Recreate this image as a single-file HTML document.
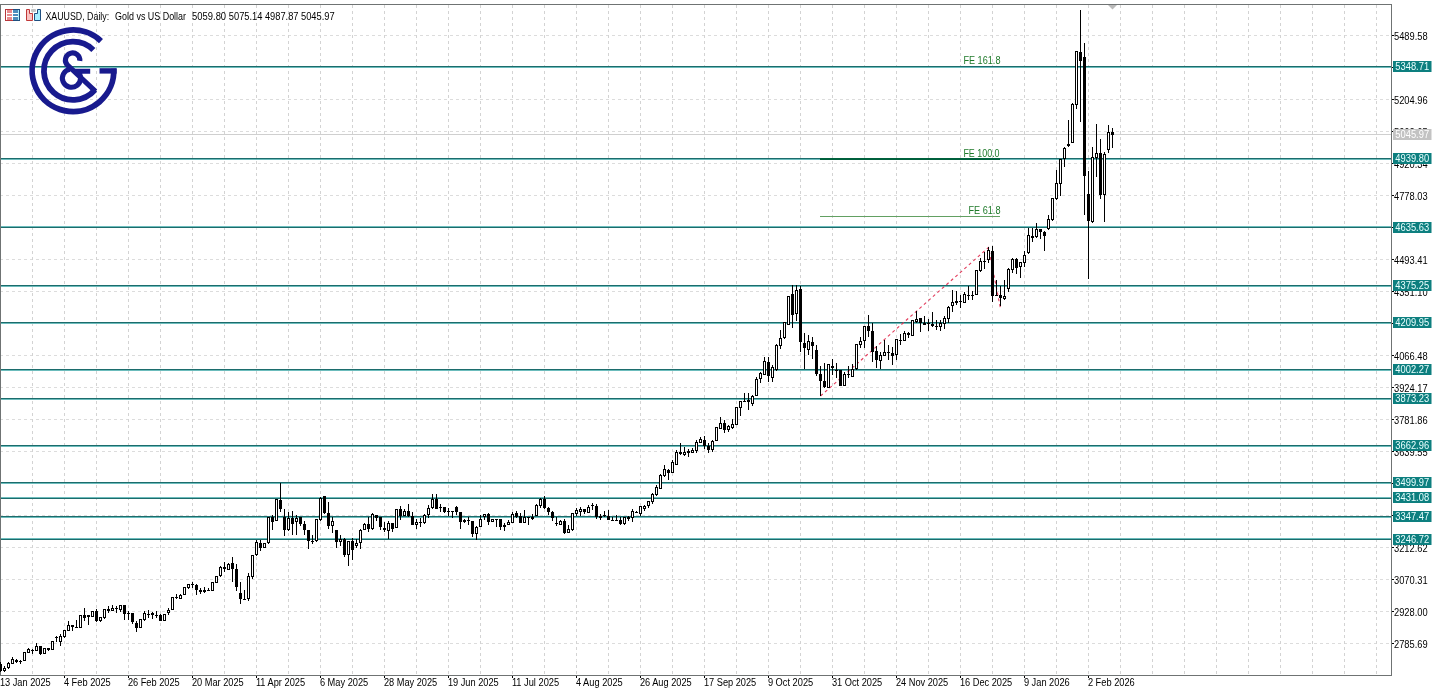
<!DOCTYPE html><html><head><meta charset="utf-8"><style>
html,body{margin:0;padding:0;background:#fff;width:1438px;height:693px;overflow:hidden}
svg{display:block;font-family:"Liberation Sans",sans-serif;will-change:transform}
</style></head><body>
<svg width="1438" height="693" viewBox="0 0 1438 693">
<rect x="0" y="0" width="1438" height="693" fill="#fff"/>
<path d="M1 35.5H1391 M1 67.5H1391 M1 99.5H1391 M1 131.5H1391 M1 163.5H1391 M1 195.5H1391 M1 227.5H1391 M1 259.5H1391 M1 291.5H1391 M1 323.5H1391 M1 355.5H1391 M1 387.5H1391 M1 419.5H1391 M1 451.5H1391 M1 483.5H1391 M1 515.5H1391 M1 547.5H1391 M1 579.5H1391 M1 611.5H1391 M1 643.5H1391" stroke="#dcdcdc" stroke-width="1" stroke-dasharray="3 3" stroke-dashoffset="1" fill="none" shape-rendering="crispEdges"/>
<path d="M32.5 5V675 M64.5 5V675 M96.5 5V675 M128.5 5V675 M160.5 5V675 M192.5 5V675 M224.5 5V675 M256.5 5V675 M288.5 5V675 M320.5 5V675 M352.5 5V675 M384.5 5V675 M416.5 5V675 M448.5 5V675 M480.5 5V675 M512.5 5V675 M544.5 5V675 M576.5 5V675 M608.5 5V675 M640.5 5V675 M672.5 5V675 M704.5 5V675 M736.5 5V675 M768.5 5V675 M800.5 5V675 M832.5 5V675 M864.5 5V675 M896.5 5V675 M928.5 5V675 M960.5 5V675 M992.5 5V675 M1024.5 5V675 M1056.5 5V675 M1088.5 5V675 M1120.5 5V675 M1152.5 5V675 M1184.5 5V675 M1216.5 5V675 M1248.5 5V675 M1280.5 5V675 M1312.5 5V675 M1344.5 5V675 M1376.5 5V675" stroke="#d3d3d3" stroke-width="1" stroke-dasharray="3 3" stroke-dashoffset="0" fill="none" shape-rendering="crispEdges"/>
<path d="M0.5 4V675.5H1391.5V4.5H0" stroke="#6f7373" stroke-width="1" fill="none" shape-rendering="crispEdges"/>
<path d="M1 134.5H1391" stroke="#cfcfcf" stroke-width="1" fill="none" shape-rendering="crispEdges"/>
<path d="M1 67.5H1391 M1 159.5H1391 M1 226.5H1391 M1 286.5H1391 M1 323.5H1391 M1 370.5H1391 M1 399.5H1391 M1 446.5H1391 M1 483.5H1391 M1 497.5H1391 M1 517.5H1391 M1 538.5H1391" stroke="#6cbcbc" stroke-width="1" fill="none" shape-rendering="crispEdges"/>
<path d="M1 66.5H1391 M1 158.5H1391 M1 227.5H1391 M1 285.5H1391 M1 322.5H1391 M1 369.5H1391 M1 398.5H1391 M1 445.5H1391 M1 482.5H1391 M1 498.5H1391 M1 516.5H1391 M1 539.5H1391" stroke="#1c6c6c" stroke-width="1" fill="none" shape-rendering="crispEdges"/>
<path d="M820 159H1000" stroke="#00603c" stroke-width="2" fill="none" shape-rendering="crispEdges"/>
<path d="M820 216.5H1000" stroke="#62a062" stroke-width="1" fill="none" shape-rendering="crispEdges"/>
<text x="963.40" y="63.90" font-size="10" fill="#1f7a2a" textLength="37.10" lengthAdjust="spacingAndGlyphs">FE 161.8</text>
<text x="963.40" y="156.70" font-size="10" fill="#1f7a2a" textLength="36.20" lengthAdjust="spacingAndGlyphs">FE 100.0</text>
<text x="968.40" y="213.60" font-size="10" fill="#1f7a2a" textLength="32.10" lengthAdjust="spacingAndGlyphs">FE 61.8</text>
<path d="M820.5 396L988.5 247.5L1000.5 308.5" stroke="#e23a5a" stroke-width="1.1" stroke-dasharray="3 3" fill="none"/>
<path d="M0.5 662V672 M4.5 666V672 M8.5 662V669 M12.5 657V664 M16.5 659V663 M20.5 660V664 M24.5 652V661 M28.5 648V653 M32.5 649V654 M36.5 643V651 M40.5 646V655 M44.5 648V654 M48.5 648V651 M52.5 641V650 M56.5 636V642 M60.5 634V646 M64.5 630V638 M68.5 621V631 M72.5 625V631 M76.5 620V628 M80.5 615V628 M84.5 608V621 M88.5 615V625 M92.5 611V617 M96.5 609V622 M100.5 617V622 M104.5 609V619 M108.5 606V613 M112.5 605V611 M116.5 606V613 M120.5 605V612 M124.5 605V620 M128.5 611V620 M132.5 613V624 M136.5 621V632 M140.5 619V628 M144.5 611V621 M148.5 610V618 M152.5 612V619 M156.5 611V618 M160.5 614V621 M164.5 614V621 M168.5 608V615 M172.5 597V610 M176.5 594V599 M180.5 594V599 M184.5 587V595 M188.5 584V589 M192.5 582V588 M196.5 584V595 M200.5 588V594 M204.5 587V593 M208.5 588V591 M212.5 582V591 M216.5 576V583 M220.5 566V577 M224.5 562V572 M228.5 563V570 M232.5 557V582 M236.5 564V591 M240.5 582V604 M244.5 590V600 M248.5 573V601 M252.5 555V579 M256.5 540V556 M260.5 540V551 M264.5 543V548 M268.5 517V544 M272.5 515V530 M276.5 499V521 M280.5 483V512 M284.5 509V536 M288.5 512V531 M292.5 511V535 M296.5 515V535 M300.5 517V526 M304.5 521V535 M308.5 530V549 M312.5 535V544 M316.5 519V542 M320.5 497V521 M324.5 496V514 M328.5 502V529 M332.5 517V533 M336.5 530V548 M340.5 535V546 M344.5 538V557 M348.5 541V566 M352.5 538V560 M356.5 539V548 M360.5 529V549 M364.5 523V530 M368.5 517V532 M372.5 513V530 M376.5 515V521 M380.5 517V530 M384.5 522V532 M388.5 521V539 M392.5 523V532 M396.5 509V528 M400.5 506V520 M404.5 509V516 M408.5 504V517 M412.5 512V525 M416.5 519V529 M420.5 518V527 M424.5 514V524 M428.5 505V518 M432.5 494V509 M436.5 494V509 M440.5 504V512 M444.5 507V513 M448.5 508V516 M452.5 511V518 M456.5 506V515 M460.5 512V529 M464.5 519V523 M468.5 517V525 M472.5 521V537 M476.5 526V540 M480.5 515V527 M484.5 514V520 M488.5 513V525 M492.5 519V522 M496.5 519V527 M500.5 519V530 M504.5 523V531 M508.5 520V525 M512.5 512V523 M516.5 511V518 M520.5 513V523 M524.5 510V523 M528.5 517V525 M532.5 514V520 M536.5 504V516 M540.5 498V508 M544.5 496V509 M548.5 507V515 M552.5 511V521 M556.5 517V526 M560.5 520V525 M564.5 519V534 M568.5 525V533 M572.5 513V531 M576.5 508V516 M580.5 507V516 M584.5 509V514 M588.5 505V513 M592.5 503V510 M596.5 504V519 M600.5 514V520 M604.5 511V517 M608.5 510V520 M612.5 517V521 M616.5 515V521 M620.5 517V525 M624.5 517V525 M628.5 516V521 M632.5 509V522 M636.5 511V513 M640.5 506V516 M644.5 505V511 M648.5 501V508 M652.5 493V504 M656.5 485V496 M660.5 474V489 M664.5 465V477 M668.5 469V480 M672.5 460V473 M676.5 450V465 M680.5 443V455 M684.5 447V456 M688.5 449V457 M692.5 448V453 M696.5 440V453 M700.5 437V443 M704.5 436V449 M708.5 443V453 M712.5 440V452 M716.5 427V441 M720.5 417V429 M724.5 420V433 M728.5 425V432 M732.5 419V429 M736.5 407V425 M740.5 401V416 M744.5 393V402 M748.5 393V410 M752.5 395V406 M756.5 377V396 M760.5 372V383 M764.5 357V375 M768.5 357V382 M772.5 365V382 M776.5 344V371 M780.5 330V349 M784.5 322V339 M788.5 296V325 M792.5 285V328 M796.5 285V321 M800.5 286V352 M804.5 333V369 M808.5 335V355 M812.5 337V359 M816.5 345V376 M820.5 366V396 M824.5 363V388 M828.5 364V388 M832.5 359V375 M836.5 363V378 M840.5 370V386 M844.5 372V386 M848.5 366V378 M852.5 364V377 M856.5 344V370 M860.5 337V348 M864.5 326V348 M868.5 315V337 M872.5 323V362 M876.5 346V368 M880.5 352V369 M884.5 340V356 M888.5 345V360 M892.5 347V365 M896.5 339V360 M900.5 334V345 M904.5 331V341 M908.5 332V338 M912.5 320V336 M916.5 311V323 M920.5 318V332 M924.5 316V325 M928.5 319V331 M932.5 312V327 M936.5 320V330 M940.5 320V331 M944.5 316V329 M948.5 306V323 M952.5 290V312 M956.5 291V305 M960.5 295V308 M964.5 292V303 M968.5 286V300 M972.5 291V300 M976.5 270V295 M980.5 258V272 M984.5 252V269 M988.5 247V263 M992.5 246V302 M996.5 280V296 M1000.5 286V306 M1004.5 280V300 M1008.5 268V292 M1012.5 258V273 M1016.5 258V274 M1020.5 262V278 M1024.5 251V267 M1028.5 228V254 M1032.5 228V242 M1036.5 223V238 M1040.5 229V239 M1044.5 231V251 M1048.5 215V230 M1052.5 198V221 M1056.5 170V200 M1060.5 159V196 M1064.5 147V167 M1068.5 120V147 M1072.5 103V143 M1076.5 51V109 M1080.5 10V122 M1084.5 43V215 M1088.5 171V279 M1092.5 147V223 M1096.5 124V177 M1100.5 139V199 M1104.5 152V222 M1108.5 125V153 M1112.5 128V148" stroke="#000" stroke-width="1" fill="none" shape-rendering="crispEdges"/>
<path d="M-1 664h3v7h-3z M15 660h3v2h-3z M19 661h3v1h-3z M31 650h3v1h-3z M39 646h3v8h-3z M47 648h3v2h-3z M55 637h3v1h-3z M71 625h3v2h-3z M75 627h3v1h-3z M83 615h3v3h-3z M95 611h3v10h-3z M107 609h3v2h-3z M115 608h3v1h-3z M123 605h3v9h-3z M127 613h3v1h-3z M131 613h3v9h-3z M135 623h3v5h-3z M151 613h3v2h-3z M155 615h3v1h-3z M159 615h3v6h-3z M175 597h3v1h-3z M191 584h3v1h-3z M195 585h3v5h-3z M199 590h3v2h-3z M207 590h3v1h-3z M223 567h3v2h-3z M231 563h3v6h-3z M235 569h3v18h-3z M239 593h3v6h-3z M243 599h3v1h-3z M259 543h3v5h-3z M271 517h3v5h-3z M279 500h3v9h-3z M283 517h3v13h-3z M291 518h3v6h-3z M299 517h3v7h-3z M303 524h3v6h-3z M307 530h3v11h-3z M311 541h3v1h-3z M323 496h3v17h-3z M327 513h3v13h-3z M335 530h3v12h-3z M343 539h3v16h-3z M351 541h3v9h-3z M367 524h3v5h-3z M375 515h3v3h-3z M379 517h3v10h-3z M383 528h3v2h-3z M391 523h3v6h-3z M399 509h3v7h-3z M407 511h3v5h-3z M411 516h3v9h-3z M419 522h3v1h-3z M435 499h3v10h-3z M439 507h3v1h-3z M443 507h3v5h-3z M447 511h3v1h-3z M455 507h3v5h-3z M459 512h3v10h-3z M467 520h3v1h-3z M471 521h3v13h-3z M487 514h3v8h-3z M499 519h3v8h-3z M515 513h3v4h-3z M519 516h3v7h-3z M527 517h3v1h-3z M543 499h3v9h-3z M547 508h3v4h-3z M551 512h3v6h-3z M555 523h3v1h-3z M563 521h3v12h-3z M583 509h3v3h-3z M591 505h3v1h-3z M595 506h3v11h-3z M603 515h3v1h-3z M607 516h3v4h-3z M611 520h3v1h-3z M615 520h3v1h-3z M619 520h3v4h-3z M627 517h3v2h-3z M635 512h3v1h-3z M667 470h3v3h-3z M679 452h3v2h-3z M687 451h3v2h-3z M703 440h3v6h-3z M707 446h3v4h-3z M723 423h3v7h-3z M747 400h3v2h-3z M767 362h3v14h-3z M791 294h3v21h-3z M799 289h3v53h-3z M803 343h3v5h-3z M811 342h3v4h-3z M815 350h3v24h-3z M819 374h3v7h-3z M823 381h3v6h-3z M831 366h3v2h-3z M835 370h3v1h-3z M839 370h3v16h-3z M847 374h3v1h-3z M867 326h3v5h-3z M871 331h3v21h-3z M875 351h3v9h-3z M891 353h3v3h-3z M899 340h3v1h-3z M907 333h3v2h-3z M919 318h3v5h-3z M923 323h3v2h-3z M931 324h3v2h-3z M935 326h3v1h-3z M955 301h3v2h-3z M959 301h3v1h-3z M967 295h3v1h-3z M971 295h3v1h-3z M983 261h3v1h-3z M991 251h3v45h-3z M999 295h3v3h-3z M1015 259h3v9h-3z M1031 236h3v2h-3z M1039 229h3v3h-3z M1043 232h3v4h-3z M1079 52h3v9h-3z M1083 57h3v119h-3z M1087 194h3v27h-3z M1099 153h3v42h-3z M1111 132h3v3h-3z" fill="#000" shape-rendering="crispEdges"/>
<rect x="3.5" y="668.5" width="2" height="2" fill="#fff" stroke="#000" stroke-width="1" shape-rendering="crispEdges"/>
<rect x="7.5" y="663.5" width="2" height="4" fill="#fff" stroke="#000" stroke-width="1" shape-rendering="crispEdges"/>
<rect x="11.5" y="659.5" width="2" height="4" fill="#fff" stroke="#000" stroke-width="1" shape-rendering="crispEdges"/>
<rect x="23.5" y="652.5" width="2" height="8" fill="#fff" stroke="#000" stroke-width="1" shape-rendering="crispEdges"/>
<rect x="27.5" y="649.5" width="2" height="3" fill="#fff" stroke="#000" stroke-width="1" shape-rendering="crispEdges"/>
<rect x="35.5" y="646.5" width="2" height="4" fill="#fff" stroke="#000" stroke-width="1" shape-rendering="crispEdges"/>
<rect x="43.5" y="648.5" width="2" height="5" fill="#fff" stroke="#000" stroke-width="1" shape-rendering="crispEdges"/>
<rect x="51.5" y="641.5" width="2" height="8" fill="#fff" stroke="#000" stroke-width="1" shape-rendering="crispEdges"/>
<rect x="59.5" y="636.5" width="2" height="5" fill="#fff" stroke="#000" stroke-width="1" shape-rendering="crispEdges"/>
<rect x="63.5" y="630.5" width="2" height="6" fill="#fff" stroke="#000" stroke-width="1" shape-rendering="crispEdges"/>
<rect x="67.5" y="625.5" width="2" height="5" fill="#fff" stroke="#000" stroke-width="1" shape-rendering="crispEdges"/>
<rect x="79.5" y="615.5" width="2" height="12" fill="#fff" stroke="#000" stroke-width="1" shape-rendering="crispEdges"/>
<rect x="87" y="615" width="3" height="2" fill="#000" shape-rendering="crispEdges"/>
<rect x="91.5" y="611.5" width="2" height="5" fill="#fff" stroke="#000" stroke-width="1" shape-rendering="crispEdges"/>
<rect x="99.5" y="617.5" width="2" height="3" fill="#fff" stroke="#000" stroke-width="1" shape-rendering="crispEdges"/>
<rect x="103.5" y="609.5" width="2" height="8" fill="#fff" stroke="#000" stroke-width="1" shape-rendering="crispEdges"/>
<rect x="111.5" y="608.5" width="2" height="2" fill="#fff" stroke="#000" stroke-width="1" shape-rendering="crispEdges"/>
<rect x="119.5" y="605.5" width="2" height="4" fill="#fff" stroke="#000" stroke-width="1" shape-rendering="crispEdges"/>
<rect x="139.5" y="619.5" width="2" height="8" fill="#fff" stroke="#000" stroke-width="1" shape-rendering="crispEdges"/>
<rect x="143.5" y="613.5" width="2" height="6" fill="#fff" stroke="#000" stroke-width="1" shape-rendering="crispEdges"/>
<rect x="147" y="614" width="3" height="1" fill="#000" shape-rendering="crispEdges"/>
<rect x="163.5" y="614.5" width="2" height="6" fill="#fff" stroke="#000" stroke-width="1" shape-rendering="crispEdges"/>
<rect x="167.5" y="610.5" width="2" height="2" fill="#fff" stroke="#000" stroke-width="1" shape-rendering="crispEdges"/>
<rect x="171.5" y="597.5" width="2" height="12" fill="#fff" stroke="#000" stroke-width="1" shape-rendering="crispEdges"/>
<rect x="179.5" y="595.5" width="2" height="3" fill="#fff" stroke="#000" stroke-width="1" shape-rendering="crispEdges"/>
<rect x="183.5" y="587.5" width="2" height="7" fill="#fff" stroke="#000" stroke-width="1" shape-rendering="crispEdges"/>
<rect x="187.5" y="584.5" width="2" height="3" fill="#fff" stroke="#000" stroke-width="1" shape-rendering="crispEdges"/>
<rect x="203" y="590" width="3" height="2" fill="#000" shape-rendering="crispEdges"/>
<rect x="211.5" y="582.5" width="2" height="8" fill="#fff" stroke="#000" stroke-width="1" shape-rendering="crispEdges"/>
<rect x="215.5" y="576.5" width="2" height="6" fill="#fff" stroke="#000" stroke-width="1" shape-rendering="crispEdges"/>
<rect x="219.5" y="567.5" width="2" height="8" fill="#fff" stroke="#000" stroke-width="1" shape-rendering="crispEdges"/>
<rect x="227.5" y="564.5" width="2" height="5" fill="#fff" stroke="#000" stroke-width="1" shape-rendering="crispEdges"/>
<rect x="247.5" y="576.5" width="2" height="22" fill="#fff" stroke="#000" stroke-width="1" shape-rendering="crispEdges"/>
<rect x="251.5" y="555.5" width="2" height="21" fill="#fff" stroke="#000" stroke-width="1" shape-rendering="crispEdges"/>
<rect x="255.5" y="542.5" width="2" height="12" fill="#fff" stroke="#000" stroke-width="1" shape-rendering="crispEdges"/>
<rect x="263.5" y="543.5" width="2" height="4" fill="#fff" stroke="#000" stroke-width="1" shape-rendering="crispEdges"/>
<rect x="267.5" y="517.5" width="2" height="25" fill="#fff" stroke="#000" stroke-width="1" shape-rendering="crispEdges"/>
<rect x="275.5" y="499.5" width="2" height="21" fill="#fff" stroke="#000" stroke-width="1" shape-rendering="crispEdges"/>
<rect x="287.5" y="518.5" width="2" height="11" fill="#fff" stroke="#000" stroke-width="1" shape-rendering="crispEdges"/>
<rect x="295.5" y="518.5" width="2" height="3" fill="#fff" stroke="#000" stroke-width="1" shape-rendering="crispEdges"/>
<rect x="315.5" y="519.5" width="2" height="21" fill="#fff" stroke="#000" stroke-width="1" shape-rendering="crispEdges"/>
<rect x="319.5" y="498.5" width="2" height="21" fill="#fff" stroke="#000" stroke-width="1" shape-rendering="crispEdges"/>
<rect x="331.5" y="521.5" width="2" height="4" fill="#fff" stroke="#000" stroke-width="1" shape-rendering="crispEdges"/>
<rect x="339.5" y="539.5" width="2" height="2" fill="#fff" stroke="#000" stroke-width="1" shape-rendering="crispEdges"/>
<rect x="347.5" y="541.5" width="2" height="13" fill="#fff" stroke="#000" stroke-width="1" shape-rendering="crispEdges"/>
<rect x="355.5" y="543.5" width="2" height="2" fill="#fff" stroke="#000" stroke-width="1" shape-rendering="crispEdges"/>
<rect x="359.5" y="530.5" width="2" height="12" fill="#fff" stroke="#000" stroke-width="1" shape-rendering="crispEdges"/>
<rect x="363.5" y="524.5" width="2" height="5" fill="#fff" stroke="#000" stroke-width="1" shape-rendering="crispEdges"/>
<rect x="371.5" y="514.5" width="2" height="14" fill="#fff" stroke="#000" stroke-width="1" shape-rendering="crispEdges"/>
<rect x="387.5" y="523.5" width="2" height="7" fill="#fff" stroke="#000" stroke-width="1" shape-rendering="crispEdges"/>
<rect x="395.5" y="509.5" width="2" height="18" fill="#fff" stroke="#000" stroke-width="1" shape-rendering="crispEdges"/>
<rect x="403.5" y="511.5" width="2" height="4" fill="#fff" stroke="#000" stroke-width="1" shape-rendering="crispEdges"/>
<rect x="415.5" y="522.5" width="2" height="2" fill="#fff" stroke="#000" stroke-width="1" shape-rendering="crispEdges"/>
<rect x="423.5" y="515.5" width="2" height="7" fill="#fff" stroke="#000" stroke-width="1" shape-rendering="crispEdges"/>
<rect x="427.5" y="508.5" width="2" height="6" fill="#fff" stroke="#000" stroke-width="1" shape-rendering="crispEdges"/>
<rect x="431.5" y="499.5" width="2" height="8" fill="#fff" stroke="#000" stroke-width="1" shape-rendering="crispEdges"/>
<rect x="451" y="511" width="3" height="1" fill="#000" shape-rendering="crispEdges"/>
<rect x="463" y="520" width="3" height="2" fill="#000" shape-rendering="crispEdges"/>
<rect x="475.5" y="527.5" width="2" height="6" fill="#fff" stroke="#000" stroke-width="1" shape-rendering="crispEdges"/>
<rect x="479.5" y="519.5" width="2" height="7" fill="#fff" stroke="#000" stroke-width="1" shape-rendering="crispEdges"/>
<rect x="483.5" y="514.5" width="2" height="2" fill="#fff" stroke="#000" stroke-width="1" shape-rendering="crispEdges"/>
<rect x="491.5" y="519.5" width="2" height="2" fill="#fff" stroke="#000" stroke-width="1" shape-rendering="crispEdges"/>
<rect x="495" y="519" width="3" height="1" fill="#000" shape-rendering="crispEdges"/>
<rect x="503" y="525" width="3" height="2" fill="#000" shape-rendering="crispEdges"/>
<rect x="507.5" y="522.5" width="2" height="2" fill="#fff" stroke="#000" stroke-width="1" shape-rendering="crispEdges"/>
<rect x="511.5" y="514.5" width="2" height="8" fill="#fff" stroke="#000" stroke-width="1" shape-rendering="crispEdges"/>
<rect x="523.5" y="517.5" width="2" height="5" fill="#fff" stroke="#000" stroke-width="1" shape-rendering="crispEdges"/>
<rect x="531" y="517" width="3" height="2" fill="#000" shape-rendering="crispEdges"/>
<rect x="535.5" y="505.5" width="2" height="10" fill="#fff" stroke="#000" stroke-width="1" shape-rendering="crispEdges"/>
<rect x="539.5" y="499.5" width="2" height="6" fill="#fff" stroke="#000" stroke-width="1" shape-rendering="crispEdges"/>
<rect x="559.5" y="521.5" width="2" height="3" fill="#fff" stroke="#000" stroke-width="1" shape-rendering="crispEdges"/>
<rect x="567.5" y="529.5" width="2" height="3" fill="#fff" stroke="#000" stroke-width="1" shape-rendering="crispEdges"/>
<rect x="571.5" y="513.5" width="2" height="16" fill="#fff" stroke="#000" stroke-width="1" shape-rendering="crispEdges"/>
<rect x="575.5" y="510.5" width="2" height="3" fill="#fff" stroke="#000" stroke-width="1" shape-rendering="crispEdges"/>
<rect x="579.5" y="509.5" width="2" height="2" fill="#fff" stroke="#000" stroke-width="1" shape-rendering="crispEdges"/>
<rect x="587.5" y="507.5" width="2" height="5" fill="#fff" stroke="#000" stroke-width="1" shape-rendering="crispEdges"/>
<rect x="599" y="516" width="3" height="2" fill="#000" shape-rendering="crispEdges"/>
<rect x="623.5" y="517.5" width="2" height="6" fill="#fff" stroke="#000" stroke-width="1" shape-rendering="crispEdges"/>
<rect x="631.5" y="511.5" width="2" height="6" fill="#fff" stroke="#000" stroke-width="1" shape-rendering="crispEdges"/>
<rect x="639.5" y="506.5" width="2" height="7" fill="#fff" stroke="#000" stroke-width="1" shape-rendering="crispEdges"/>
<rect x="643.5" y="506.5" width="2" height="2" fill="#fff" stroke="#000" stroke-width="1" shape-rendering="crispEdges"/>
<rect x="647.5" y="501.5" width="2" height="4" fill="#fff" stroke="#000" stroke-width="1" shape-rendering="crispEdges"/>
<rect x="651.5" y="494.5" width="2" height="7" fill="#fff" stroke="#000" stroke-width="1" shape-rendering="crispEdges"/>
<rect x="655.5" y="487.5" width="2" height="7" fill="#fff" stroke="#000" stroke-width="1" shape-rendering="crispEdges"/>
<rect x="659.5" y="475.5" width="2" height="13" fill="#fff" stroke="#000" stroke-width="1" shape-rendering="crispEdges"/>
<rect x="663.5" y="469.5" width="2" height="6" fill="#fff" stroke="#000" stroke-width="1" shape-rendering="crispEdges"/>
<rect x="671.5" y="462.5" width="2" height="10" fill="#fff" stroke="#000" stroke-width="1" shape-rendering="crispEdges"/>
<rect x="675.5" y="452.5" width="2" height="12" fill="#fff" stroke="#000" stroke-width="1" shape-rendering="crispEdges"/>
<rect x="683.5" y="452.5" width="2" height="2" fill="#fff" stroke="#000" stroke-width="1" shape-rendering="crispEdges"/>
<rect x="691.5" y="450.5" width="2" height="2" fill="#fff" stroke="#000" stroke-width="1" shape-rendering="crispEdges"/>
<rect x="695.5" y="442.5" width="2" height="8" fill="#fff" stroke="#000" stroke-width="1" shape-rendering="crispEdges"/>
<rect x="699.5" y="439.5" width="2" height="3" fill="#fff" stroke="#000" stroke-width="1" shape-rendering="crispEdges"/>
<rect x="711.5" y="441.5" width="2" height="8" fill="#fff" stroke="#000" stroke-width="1" shape-rendering="crispEdges"/>
<rect x="715.5" y="427.5" width="2" height="13" fill="#fff" stroke="#000" stroke-width="1" shape-rendering="crispEdges"/>
<rect x="719.5" y="423.5" width="2" height="5" fill="#fff" stroke="#000" stroke-width="1" shape-rendering="crispEdges"/>
<rect x="727.5" y="426.5" width="2" height="3" fill="#fff" stroke="#000" stroke-width="1" shape-rendering="crispEdges"/>
<rect x="731.5" y="424.5" width="2" height="3" fill="#fff" stroke="#000" stroke-width="1" shape-rendering="crispEdges"/>
<rect x="735.5" y="407.5" width="2" height="17" fill="#fff" stroke="#000" stroke-width="1" shape-rendering="crispEdges"/>
<rect x="739.5" y="401.5" width="2" height="6" fill="#fff" stroke="#000" stroke-width="1" shape-rendering="crispEdges"/>
<rect x="743" y="401" width="3" height="1" fill="#000" shape-rendering="crispEdges"/>
<rect x="751.5" y="396.5" width="2" height="7" fill="#fff" stroke="#000" stroke-width="1" shape-rendering="crispEdges"/>
<rect x="755.5" y="379.5" width="2" height="16" fill="#fff" stroke="#000" stroke-width="1" shape-rendering="crispEdges"/>
<rect x="759.5" y="373.5" width="2" height="5" fill="#fff" stroke="#000" stroke-width="1" shape-rendering="crispEdges"/>
<rect x="763.5" y="361.5" width="2" height="13" fill="#fff" stroke="#000" stroke-width="1" shape-rendering="crispEdges"/>
<rect x="771.5" y="367.5" width="2" height="10" fill="#fff" stroke="#000" stroke-width="1" shape-rendering="crispEdges"/>
<rect x="775.5" y="345.5" width="2" height="24" fill="#fff" stroke="#000" stroke-width="1" shape-rendering="crispEdges"/>
<rect x="779.5" y="338.5" width="2" height="7" fill="#fff" stroke="#000" stroke-width="1" shape-rendering="crispEdges"/>
<rect x="783.5" y="322.5" width="2" height="15" fill="#fff" stroke="#000" stroke-width="1" shape-rendering="crispEdges"/>
<rect x="787.5" y="296.5" width="2" height="28" fill="#fff" stroke="#000" stroke-width="1" shape-rendering="crispEdges"/>
<rect x="795.5" y="290.5" width="2" height="23" fill="#fff" stroke="#000" stroke-width="1" shape-rendering="crispEdges"/>
<rect x="807.5" y="341.5" width="2" height="8" fill="#fff" stroke="#000" stroke-width="1" shape-rendering="crispEdges"/>
<rect x="827.5" y="364.5" width="2" height="23" fill="#fff" stroke="#000" stroke-width="1" shape-rendering="crispEdges"/>
<rect x="843.5" y="374.5" width="2" height="11" fill="#fff" stroke="#000" stroke-width="1" shape-rendering="crispEdges"/>
<rect x="851.5" y="369.5" width="2" height="7" fill="#fff" stroke="#000" stroke-width="1" shape-rendering="crispEdges"/>
<rect x="855.5" y="344.5" width="2" height="24" fill="#fff" stroke="#000" stroke-width="1" shape-rendering="crispEdges"/>
<rect x="859.5" y="341.5" width="2" height="3" fill="#fff" stroke="#000" stroke-width="1" shape-rendering="crispEdges"/>
<rect x="863.5" y="326.5" width="2" height="14" fill="#fff" stroke="#000" stroke-width="1" shape-rendering="crispEdges"/>
<rect x="879.5" y="355.5" width="2" height="5" fill="#fff" stroke="#000" stroke-width="1" shape-rendering="crispEdges"/>
<rect x="883.5" y="352.5" width="2" height="3" fill="#fff" stroke="#000" stroke-width="1" shape-rendering="crispEdges"/>
<rect x="887" y="352" width="3" height="1" fill="#000" shape-rendering="crispEdges"/>
<rect x="895.5" y="339.5" width="2" height="15" fill="#fff" stroke="#000" stroke-width="1" shape-rendering="crispEdges"/>
<rect x="903.5" y="333.5" width="2" height="7" fill="#fff" stroke="#000" stroke-width="1" shape-rendering="crispEdges"/>
<rect x="911.5" y="320.5" width="2" height="15" fill="#fff" stroke="#000" stroke-width="1" shape-rendering="crispEdges"/>
<rect x="915.5" y="319.5" width="2" height="2" fill="#fff" stroke="#000" stroke-width="1" shape-rendering="crispEdges"/>
<rect x="927" y="323" width="3" height="1" fill="#000" shape-rendering="crispEdges"/>
<rect x="939.5" y="323.5" width="2" height="3" fill="#fff" stroke="#000" stroke-width="1" shape-rendering="crispEdges"/>
<rect x="943.5" y="318.5" width="2" height="5" fill="#fff" stroke="#000" stroke-width="1" shape-rendering="crispEdges"/>
<rect x="947.5" y="307.5" width="2" height="11" fill="#fff" stroke="#000" stroke-width="1" shape-rendering="crispEdges"/>
<rect x="951.5" y="302.5" width="2" height="3" fill="#fff" stroke="#000" stroke-width="1" shape-rendering="crispEdges"/>
<rect x="963.5" y="294.5" width="2" height="8" fill="#fff" stroke="#000" stroke-width="1" shape-rendering="crispEdges"/>
<rect x="975.5" y="270.5" width="2" height="24" fill="#fff" stroke="#000" stroke-width="1" shape-rendering="crispEdges"/>
<rect x="979.5" y="261.5" width="2" height="9" fill="#fff" stroke="#000" stroke-width="1" shape-rendering="crispEdges"/>
<rect x="987.5" y="250.5" width="2" height="9" fill="#fff" stroke="#000" stroke-width="1" shape-rendering="crispEdges"/>
<rect x="995" y="295" width="3" height="1" fill="#000" shape-rendering="crispEdges"/>
<rect x="1003.5" y="296.5" width="2" height="2" fill="#fff" stroke="#000" stroke-width="1" shape-rendering="crispEdges"/>
<rect x="1007.5" y="269.5" width="2" height="19" fill="#fff" stroke="#000" stroke-width="1" shape-rendering="crispEdges"/>
<rect x="1011.5" y="259.5" width="2" height="10" fill="#fff" stroke="#000" stroke-width="1" shape-rendering="crispEdges"/>
<rect x="1019.5" y="262.5" width="2" height="4" fill="#fff" stroke="#000" stroke-width="1" shape-rendering="crispEdges"/>
<rect x="1023.5" y="255.5" width="2" height="7" fill="#fff" stroke="#000" stroke-width="1" shape-rendering="crispEdges"/>
<rect x="1027.5" y="235.5" width="2" height="17" fill="#fff" stroke="#000" stroke-width="1" shape-rendering="crispEdges"/>
<rect x="1035.5" y="229.5" width="2" height="7" fill="#fff" stroke="#000" stroke-width="1" shape-rendering="crispEdges"/>
<rect x="1047.5" y="219.5" width="2" height="9" fill="#fff" stroke="#000" stroke-width="1" shape-rendering="crispEdges"/>
<rect x="1051.5" y="198.5" width="2" height="21" fill="#fff" stroke="#000" stroke-width="1" shape-rendering="crispEdges"/>
<rect x="1055.5" y="183.5" width="2" height="15" fill="#fff" stroke="#000" stroke-width="1" shape-rendering="crispEdges"/>
<rect x="1059.5" y="159.5" width="2" height="24" fill="#fff" stroke="#000" stroke-width="1" shape-rendering="crispEdges"/>
<rect x="1063.5" y="148.5" width="2" height="10" fill="#fff" stroke="#000" stroke-width="1" shape-rendering="crispEdges"/>
<rect x="1067" y="144" width="3" height="2" fill="#000" shape-rendering="crispEdges"/>
<rect x="1071.5" y="104.5" width="2" height="38" fill="#fff" stroke="#000" stroke-width="1" shape-rendering="crispEdges"/>
<rect x="1075.5" y="51.5" width="2" height="53" fill="#fff" stroke="#000" stroke-width="1" shape-rendering="crispEdges"/>
<rect x="1091.5" y="157.5" width="2" height="64" fill="#fff" stroke="#000" stroke-width="1" shape-rendering="crispEdges"/>
<rect x="1095.5" y="153.5" width="2" height="4" fill="#fff" stroke="#000" stroke-width="1" shape-rendering="crispEdges"/>
<rect x="1103.5" y="154.5" width="2" height="40" fill="#fff" stroke="#000" stroke-width="1" shape-rendering="crispEdges"/>
<rect x="1107.5" y="132.5" width="2" height="17" fill="#fff" stroke="#000" stroke-width="1" shape-rendering="crispEdges"/>
<text x="1394.00" y="39.70" font-size="10" fill="#000" textLength="33.60" lengthAdjust="spacingAndGlyphs">5489.58</text>
<text x="1394.00" y="71.70" font-size="10" fill="#000" textLength="33.60" lengthAdjust="spacingAndGlyphs">5347.27</text>
<text x="1394.00" y="103.70" font-size="10" fill="#000" textLength="33.60" lengthAdjust="spacingAndGlyphs">5204.96</text>
<text x="1394.00" y="135.70" font-size="10" fill="#000" textLength="33.60" lengthAdjust="spacingAndGlyphs">5062.65</text>
<text x="1394.00" y="167.70" font-size="10" fill="#000" textLength="33.60" lengthAdjust="spacingAndGlyphs">4920.34</text>
<text x="1394.00" y="199.70" font-size="10" fill="#000" textLength="33.60" lengthAdjust="spacingAndGlyphs">4778.03</text>
<text x="1394.00" y="231.70" font-size="10" fill="#000" textLength="33.60" lengthAdjust="spacingAndGlyphs">4635.72</text>
<text x="1394.00" y="263.70" font-size="10" fill="#000" textLength="33.60" lengthAdjust="spacingAndGlyphs">4493.41</text>
<text x="1394.00" y="295.70" font-size="10" fill="#000" textLength="33.60" lengthAdjust="spacingAndGlyphs">4351.10</text>
<text x="1394.00" y="327.70" font-size="10" fill="#000" textLength="33.60" lengthAdjust="spacingAndGlyphs">4208.79</text>
<text x="1394.00" y="359.70" font-size="10" fill="#000" textLength="33.60" lengthAdjust="spacingAndGlyphs">4066.48</text>
<text x="1394.00" y="391.70" font-size="10" fill="#000" textLength="33.60" lengthAdjust="spacingAndGlyphs">3924.17</text>
<text x="1394.00" y="423.70" font-size="10" fill="#000" textLength="33.60" lengthAdjust="spacingAndGlyphs">3781.86</text>
<text x="1394.00" y="455.70" font-size="10" fill="#000" textLength="33.60" lengthAdjust="spacingAndGlyphs">3639.55</text>
<text x="1394.00" y="487.70" font-size="10" fill="#000" textLength="33.60" lengthAdjust="spacingAndGlyphs">3497.24</text>
<text x="1394.00" y="519.70" font-size="10" fill="#000" textLength="33.60" lengthAdjust="spacingAndGlyphs">3354.93</text>
<text x="1394.00" y="551.70" font-size="10" fill="#000" textLength="33.60" lengthAdjust="spacingAndGlyphs">3212.62</text>
<text x="1394.00" y="583.70" font-size="10" fill="#000" textLength="33.60" lengthAdjust="spacingAndGlyphs">3070.31</text>
<text x="1394.00" y="615.70" font-size="10" fill="#000" textLength="33.60" lengthAdjust="spacingAndGlyphs">2928.00</text>
<text x="1394.00" y="647.70" font-size="10" fill="#000" textLength="33.60" lengthAdjust="spacingAndGlyphs">2785.69</text>
<path d="M1392 35.5H1394 M1392 67.5H1394 M1392 99.5H1394 M1392 131.5H1394 M1392 163.5H1394 M1392 195.5H1394 M1392 227.5H1394 M1392 259.5H1394 M1392 291.5H1394 M1392 323.5H1394 M1392 355.5H1394 M1392 387.5H1394 M1392 419.5H1394 M1392 451.5H1394 M1392 483.5H1394 M1392 515.5H1394 M1392 547.5H1394 M1392 579.5H1394 M1392 611.5H1394 M1392 643.5H1394" stroke="#000" stroke-width="1" fill="none" shape-rendering="crispEdges"/>
<rect x="1393" y="61" width="38.5" height="11" fill="#0d7f7f"/>
<text x="1395.30" y="69.70" font-size="10" fill="#e8ffff" textLength="33.80" lengthAdjust="spacingAndGlyphs">5348.71</text>
<rect x="1393" y="153" width="38.5" height="11" fill="#0d7f7f"/>
<text x="1395.30" y="161.70" font-size="10" fill="#e8ffff" textLength="33.80" lengthAdjust="spacingAndGlyphs">4939.80</text>
<rect x="1393" y="222" width="38.5" height="11" fill="#0d7f7f"/>
<text x="1395.30" y="230.70" font-size="10" fill="#e8ffff" textLength="33.80" lengthAdjust="spacingAndGlyphs">4635.63</text>
<rect x="1393" y="280" width="38.5" height="11" fill="#0d7f7f"/>
<text x="1395.30" y="288.70" font-size="10" fill="#e8ffff" textLength="33.80" lengthAdjust="spacingAndGlyphs">4375.25</text>
<rect x="1393" y="317" width="38.5" height="11" fill="#0d7f7f"/>
<text x="1395.30" y="325.70" font-size="10" fill="#e8ffff" textLength="33.80" lengthAdjust="spacingAndGlyphs">4209.95</text>
<rect x="1393" y="364" width="38.5" height="11" fill="#0d7f7f"/>
<text x="1395.30" y="372.70" font-size="10" fill="#e8ffff" textLength="33.80" lengthAdjust="spacingAndGlyphs">4002.27</text>
<rect x="1393" y="393" width="38.5" height="11" fill="#0d7f7f"/>
<text x="1395.30" y="401.70" font-size="10" fill="#e8ffff" textLength="33.80" lengthAdjust="spacingAndGlyphs">3873.23</text>
<rect x="1393" y="440" width="38.5" height="11" fill="#0d7f7f"/>
<text x="1395.30" y="448.70" font-size="10" fill="#e8ffff" textLength="33.80" lengthAdjust="spacingAndGlyphs">3662.96</text>
<rect x="1393" y="477" width="38.5" height="11" fill="#0d7f7f"/>
<text x="1395.30" y="485.70" font-size="10" fill="#e8ffff" textLength="33.80" lengthAdjust="spacingAndGlyphs">3499.97</text>
<rect x="1393" y="492" width="38.5" height="11" fill="#0d7f7f"/>
<text x="1395.30" y="500.70" font-size="10" fill="#e8ffff" textLength="33.80" lengthAdjust="spacingAndGlyphs">3431.08</text>
<rect x="1393" y="511" width="38.5" height="11" fill="#0d7f7f"/>
<text x="1395.30" y="519.70" font-size="10" fill="#e8ffff" textLength="33.80" lengthAdjust="spacingAndGlyphs">3347.47</text>
<rect x="1393" y="534" width="38.5" height="11" fill="#0d7f7f"/>
<text x="1395.30" y="542.70" font-size="10" fill="#e8ffff" textLength="33.80" lengthAdjust="spacingAndGlyphs">3246.72</text>
<rect x="1393" y="129" width="38.5" height="11" fill="#c3c3c3"/>
<text x="1395.30" y="137.70" font-size="10" fill="#fff" textLength="33.80" lengthAdjust="spacingAndGlyphs">5045.97</text>
<text x="-0.10" y="685.70" font-size="10" fill="#000" textLength="50.85" lengthAdjust="spacingAndGlyphs">13 Jan 2025</text>
<text x="63.90" y="685.70" font-size="10" fill="#000" textLength="46.85" lengthAdjust="spacingAndGlyphs">4 Feb 2025</text>
<text x="127.90" y="685.70" font-size="10" fill="#000" textLength="51.85" lengthAdjust="spacingAndGlyphs">26 Feb 2025</text>
<text x="191.90" y="685.70" font-size="10" fill="#000" textLength="51.85" lengthAdjust="spacingAndGlyphs">20 Mar 2025</text>
<text x="255.90" y="685.70" font-size="10" fill="#000" textLength="49.18" lengthAdjust="spacingAndGlyphs">11 Apr 2025</text>
<text x="319.90" y="685.70" font-size="10" fill="#000" textLength="48.33" lengthAdjust="spacingAndGlyphs">6 May 2025</text>
<text x="383.90" y="685.70" font-size="10" fill="#000" textLength="53.35" lengthAdjust="spacingAndGlyphs">28 May 2025</text>
<text x="447.90" y="685.70" font-size="10" fill="#000" textLength="50.85" lengthAdjust="spacingAndGlyphs">19 Jun 2025</text>
<text x="511.90" y="685.70" font-size="10" fill="#000" textLength="47.18" lengthAdjust="spacingAndGlyphs">11 Jul 2025</text>
<text x="575.90" y="685.70" font-size="10" fill="#000" textLength="46.85" lengthAdjust="spacingAndGlyphs">4 Aug 2025</text>
<text x="639.90" y="685.70" font-size="10" fill="#000" textLength="51.86" lengthAdjust="spacingAndGlyphs">26 Aug 2025</text>
<text x="703.90" y="685.70" font-size="10" fill="#000" textLength="52.35" lengthAdjust="spacingAndGlyphs">17 Sep 2025</text>
<text x="767.90" y="685.70" font-size="10" fill="#000" textLength="45.33" lengthAdjust="spacingAndGlyphs">9 Oct 2025</text>
<text x="831.90" y="685.70" font-size="10" fill="#000" textLength="50.35" lengthAdjust="spacingAndGlyphs">31 Oct 2025</text>
<text x="895.90" y="685.70" font-size="10" fill="#000" textLength="52.35" lengthAdjust="spacingAndGlyphs">24 Nov 2025</text>
<text x="959.90" y="685.70" font-size="10" fill="#000" textLength="52.35" lengthAdjust="spacingAndGlyphs">16 Dec 2025</text>
<text x="1023.90" y="685.70" font-size="10" fill="#000" textLength="45.85" lengthAdjust="spacingAndGlyphs">9 Jan 2026</text>
<text x="1087.90" y="685.70" font-size="10" fill="#000" textLength="46.85" lengthAdjust="spacingAndGlyphs">2 Feb 2026</text>
<path d="M64.5 676V678 M128.5 676V678 M192.5 676V678 M256.5 676V678 M320.5 676V678 M384.5 676V678 M448.5 676V678 M512.5 676V678 M576.5 676V678 M640.5 676V678 M704.5 676V678 M768.5 676V678 M832.5 676V678 M896.5 676V678 M960.5 676V678 M1024.5 676V678 M1088.5 676V678" stroke="#000" stroke-width="1" fill="none" shape-rendering="crispEdges"/>
<path d="M1108 5H1117L1112.5 9.6Z" fill="#bababa"/>
<g shape-rendering="crispEdges">
<rect x="5" y="9" width="8" height="12" fill="#b8383c"/>
<rect x="13" y="9" width="7" height="12" fill="#1f4f7f"/>
<rect x="6" y="10" width="7" height="10" fill="#e98a8e"/>
<rect x="13" y="10" width="6" height="10" fill="#4d8dbd"/>
<rect x="6" y="13" width="13" height="1" fill="#fff"/>
<rect x="6" y="16" width="13" height="1" fill="#fff"/>
<rect x="6" y="10" width="1" height="10" fill="#fff"/>
<rect x="12" y="10" width="1" height="10" fill="#fff"/>
<rect x="18" y="10" width="1" height="10" fill="#a8f0ff"/>
</g>
<path d="M26.5 9.5H29.5V13.5H32.5V20.5H26.5Z" fill="#f9c4c4" stroke="#c03838" stroke-width="1" stroke-linejoin="round"/>
<path d="M37.5 9.5H40.5V20.5H34.5V13.5H37.5Z" fill="#a6eeff" stroke="#1f4f80" stroke-width="1" stroke-linejoin="round"/>
<rect x="31" y="9" width="5" height="3" rx="1" fill="#c4c4c4"/>
<text x="45.40" y="19.50" font-size="10" fill="#000" textLength="63.80" lengthAdjust="spacingAndGlyphs">XAUUSD, Daily:</text>
<text x="115.10" y="19.50" font-size="10" fill="#000" textLength="70.90" lengthAdjust="spacingAndGlyphs">Gold vs US Dollar</text>
<text x="192.10" y="19.50" font-size="10" fill="#000" textLength="34.00" lengthAdjust="spacingAndGlyphs">5059.80</text>
<text x="228.80" y="19.50" font-size="10" fill="#000" textLength="33.60" lengthAdjust="spacingAndGlyphs">5075.14</text>
<text x="264.90" y="19.50" font-size="10" fill="#000" textLength="33.60" lengthAdjust="spacingAndGlyphs">4987.87</text>
<text x="301.00" y="19.50" font-size="10" fill="#000" textLength="33.70" lengthAdjust="spacingAndGlyphs">5045.97</text>
<g fill="none" stroke="#181a8e">
<path d="M100.98 41.1 A40.8 40.8 0 1 0 113.74 68.66" stroke-width="5.8"/>
<path d="M99.5 68.2 H116.6 V73.6 H99.5Z" fill="#181a8e" stroke="none"/>
<path d="M93.36 50.0 A29.1 29.1 0 1 0 94.96 89.9" stroke-width="5.8"/>
</g>
<g fill="none" stroke="#181a8e" stroke-width="5.1">
<path d="M79.77 60.9 A7.2 7.2 0 1 0 67.51 65.19 L95.5 91.3"/>
<path d="M69.9 69.2 A9.1 9.1 0 1 0 77.35 71.2 H90.2" />
</g>
</svg></body></html>
